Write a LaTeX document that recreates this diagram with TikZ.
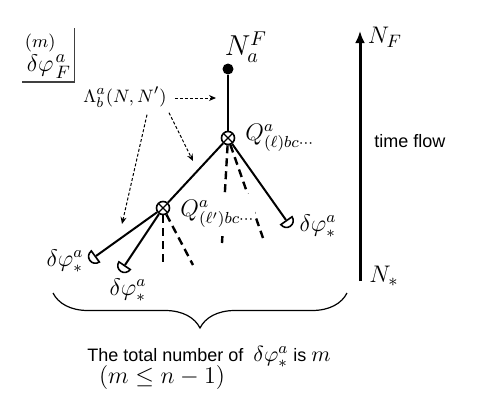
\documentclass[tikz,border=0pt]{standalone}
\usepackage{fontspec}
\setsansfont{Liberation Sans}
\usepackage{amsmath}
\usetikzlibrary{arrows.meta,positioning,shapes.geometric,decorations.pathreplacing,calc}

\begin{document}
\begin{tikzpicture}[
  x=0.5pt, y=-0.5pt,
  vertex/.style={circle,draw,line width=0.8pt,fill=white,inner sep=0pt,minimum size=6.5pt,
    path picture={\draw[line width=0.6pt] (path picture bounding box.south west) -- (path picture bounding box.north east)
      (path picture bounding box.north west) -- (path picture bounding box.south east);}},
  final/.style={circle,fill=black,inner sep=0pt,minimum size=5.5pt},
  endcap/.style={semicircle,draw,line width=0.8pt,fill=white,inner sep=0pt,minimum size=3.4pt},
  leg/.style={line width=1pt},
  loopleg/.style={line width=1.2pt,dash pattern=on 4pt off 2.5pt},
  hint/.style={-{Stealth[length=3.5pt,width=3pt]},line width=0.5pt,dash pattern=on 1.5pt off 1pt},
  mlbl/.style={font=\fontsize{12}{14}\selectfont,inner sep=1pt},
  qlbl/.style={mlbl,fill=white,anchor=west,inner xsep=0.5pt,inner ysep=3pt},
  brace/.style={decorate,decoration={brace,mirror,amplitude=17.5pt},line width=0.6pt}
]
  \useasboundingbox (0,0) rectangle (478,408);

  % tree
  \node[final] (fin) at (228,69) {};
  \node[vertex] (v1) at (228,138) {};
  \node[vertex] (v2) at (163,208) {};
  \node[endcap,anchor=chord center,rotate=126] (s1) at (96,256) {};
  \node[endcap,anchor=chord center,rotate=146] (s2) at (125,265) {};
  \node[endcap,anchor=chord center,rotate=-145] (s3) at (286,220) {};

  \coordinate (d1) at (222,243);
  \coordinate (d2) at (263,238);
  \coordinate (d3) at (163,265);
  \coordinate (d4) at (193,265);

  \draw[leg] (fin) -- (v1);
  \draw[leg] (v1) -- (v2);
  \draw[leg] (v1) -- (s3.chord center);
  \draw[leg] (v2) -- (s1.chord center);
  \draw[leg] (v2) -- (s2.chord center);
  \draw[loopleg] (v1) -- (d1);
  \draw[loopleg] (v1) -- (d2);
  \draw[loopleg] (v2) -- (d3);
  \draw[loopleg] (v2) -- (d4);

  % labels
  \node[mlbl,font=\fontsize{14}{16}\selectfont] (nfa) at (246,47) {$N^F_a$};
  \node[qlbl] (q1) at (244,138) {$Q^a_{(\ell)bc\cdots}$};
  \node[qlbl] (q2) at (179,214) {$Q^a_{(\ell')bc\cdot\cdot\cdot}$};
  \node[mlbl] (l1) at (65,261) {$\delta\varphi^a_*$};
  \node[mlbl] (l2) at (128,290) {$\delta\varphi^a_*$};
  \node[mlbl] (l3) at (318,226) {$\delta\varphi^a_*$};
  \node[mlbl,font=\fontsize{13}{15}\selectfont,inner sep=1.5pt] (fx) at (48,55) {$\overset{(m)}{\delta\varphi}{}^a_F$};
  \draw[line width=0.9pt,black!75] (fx.north east) -- (fx.south east) -- (fx.south west);

  % vertex factors
  \node[mlbl,font=\fontsize{9.5}{11}\selectfont] (lam) at (125,97) {$\Lambda^a_b(N,N')$};
  \coordinate (h1) at (216,98);
  \coordinate (h2) at (193,161);
  \coordinate (h3) at (122,224);
  \draw[hint] ($(lam.east)+(6,1)$) -- (h1);
  \draw[hint] ($(lam.south east)+(0,3)$) -- (h2);
  \draw[hint] ($(lam.south)+(22,5)$) -- (h3);

  % time axis
  \coordinate (tlow) at (360,281);
  \coordinate (thigh) at (360,31);
  \draw[line width=1.5pt,-{Latex[length=6pt,width=5pt]}] (tlow) -- (thigh);
  \node[mlbl,font=\fontsize{12.5}{14}\selectfont] (nf) at (385,37) {$N_F$};
  \node[mlbl,font=\fontsize{12.5}{14}\selectfont] (ns) at (384,276) {$N_*$};
  \node[font=\sffamily\fontsize{9}{11}\selectfont] (tf) at (410,141) {time flow};

  % brace and caption
  \coordinate (bl) at (53,293);
  \coordinate (br) at (347,293);
  \draw[brace] (bl) -- (br);
  \node[font=\sffamily\fontsize{9}{11}\selectfont] (cap) at (209,357)
    {The total number of \ {\fontsize{11}{13}\selectfont$\delta\varphi^a_*$} is {\fontsize{11}{13}\selectfont$m$}};
  \node[mlbl,font=\fontsize{12.5}{14}\selectfont] (cond) at (162,377) {$(m\leq n-1)$};
\end{tikzpicture}
\end{document}
